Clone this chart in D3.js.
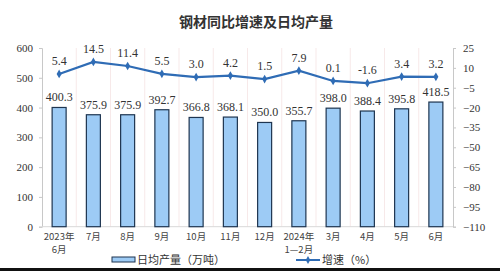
<!DOCTYPE html>
<html>
<head>
<meta charset="utf-8">
<script src="https://d3js.org/d3.v7.min.js"></script>
<style>
  body { margin: 0; background: #fff; }
  svg { display: block; }
</style>
</head>
<body>
<svg id="chart" width="500" height="271"></svg>
<script>
// data
const months = ["2023年\n6月", "7月", "8月", "9月", "10月", "11月", "12月", "2024年\n1—2月", "3月", "4月", "5月", "6月"];
const output = [400.3, 375.9, 375.9, 392.7, 366.8, 368.1, 350.0, 355.7, 398.0, 388.4, 395.8, 418.5];
const growth = [5.4, 14.5, 11.4, 5.5, 3.0, 4.2, 1.5, 7.9, 0.1, -1.6, 3.4, 3.2];
const leftTicks = [0, 100, 200, 300, 400, 500, 600];
const rightTicks = [25, 10, -5, -20, -35, -50, -65, -80, -95, -110];

const serif = "'Liberation Serif', 'Times New Roman', serif";
const svg = d3.select("#chart");
const m = {left: 42, right: 453, top: 48, bottom: 226.7};

const x = d3.scaleBand().domain(months).range([m.left, m.right]);
const yL = d3.scaleLinear().domain([0, 600]).range([m.bottom, m.top]);
const yR = d3.scaleLinear().domain([-110, 25]).range([m.bottom, m.top]);

// title
svg.append("text")
  .attr("x", 256).attr("y", 27)
  .attr("text-anchor", "middle")
  .attr("font-family", "'Noto Sans CJK SC', sans-serif")
  .attr("font-weight", "bold")
  .attr("font-size", 14)
  .attr("fill", "#333")
  .text("钢材同比增速及日均产量");

// faint vertical separators
svg.append("g").selectAll("line")
  .data(months.slice(1))
  .join("line")
  .attr("x1", d => x(d)).attr("x2", d => x(d))
  .attr("y1", m.top).attr("y2", m.bottom)
  .attr("stroke", "#f7e9e9").attr("stroke-width", 1);

// left axis
const axL = svg.append("g")
  .attr("transform", `translate(${m.left},0)`)
  .call(d3.axisLeft(yL).tickValues(leftTicks).tickSize(3).tickPadding(6));
axL.attr("font-family", serif);
axL.select(".domain").attr("stroke", "#c8c8c8");
axL.selectAll(".tick line").attr("stroke", "#c8c8c8");
axL.selectAll(".tick text").attr("font-size", 11).attr("fill", "#333");

// right axis
const axR = svg.append("g")
  .attr("transform", `translate(${m.right},0)`)
  .call(d3.axisRight(yR).tickValues(rightTicks).tickSize(3).tickPadding(7));
axR.attr("font-family", serif);
axR.select(".domain").attr("stroke", "#c8c8c8");
axR.selectAll(".tick line").attr("stroke", "#c8c8c8");
axR.selectAll(".tick text").attr("font-size", 11).attr("fill", "#333");

// bottom axis line
svg.append("line")
  .attr("x1", m.left).attr("x2", m.right)
  .attr("y1", yL(0)).attr("y2", yL(0))
  .attr("stroke", "#d8d8d8");

// category labels
const cat = svg.append("g").selectAll("text")
  .data(months)
  .join("text")
  .attr("x", d => x(d) + x.bandwidth() / 2)
  .attr("y", 240)
  .attr("text-anchor", "middle")
  .attr("font-family", "'Noto Sans CJK SC', serif")
  .attr("font-size", 9.5)
  .attr("fill", "#444");
cat.selectAll("tspan")
  .data(d => d.split("\n"))
  .join("tspan")
  .attr("x", function() { return d3.select(this.parentNode).attr("x"); })
  .attr("dy", (d, i) => i === 0 ? 0 : 13)
  .text(d => d);

// bars
const bw = 14;
svg.append("g").selectAll("rect")
  .data(output)
  .join("rect")
  .attr("x", (d, i) => x(months[i]) + x.bandwidth() / 2 - bw / 2)
  .attr("y", d => yL(d))
  .attr("width", bw)
  .attr("height", d => yL(0) - yL(d))
  .attr("fill", "#9dcbf5")
  .attr("stroke", "#1e3550")
  .attr("stroke-width", 1.2);

svg.append("g").selectAll("text")
  .data(output)
  .join("text")
  .attr("x", (d, i) => x(months[i]) + x.bandwidth() / 2)
  .attr("y", d => yL(d) - 6)
  .attr("text-anchor", "middle")
  .attr("font-family", serif)
  .attr("font-size", 12)
  .attr("fill", "#333")
  .text(d => d.toFixed(1));

// growth line
const cx = (d, i) => x(months[i]) + x.bandwidth() / 2;
const line = d3.line().x(cx).y(d => yR(d));
svg.append("path")
  .datum(growth)
  .attr("d", line)
  .attr("fill", "none")
  .attr("stroke", "#2f6cb5")
  .attr("stroke-width", 2.2);

svg.append("g").selectAll("path")
  .data(growth)
  .join("path")
  .attr("transform", (d, i) => `translate(${cx(d, i)},${yR(d)})`)
  .attr("d", d3.symbol(d3.symbolDiamond, 22))
  .attr("fill", "#2f6cb5");

svg.append("g").selectAll("text")
  .data(growth)
  .join("text")
  .attr("x", cx)
  .attr("y", d => yR(d) - 9)
  .attr("text-anchor", "middle")
  .attr("font-family", serif)
  .attr("font-size", 12)
  .attr("fill", "#333")
  .text(d => d.toFixed(1));

// legend
const lg = svg.append("g").attr("font-family", "'Noto Sans CJK SC', sans-serif").attr("font-size", 11).attr("fill", "#333");
lg.append("rect").attr("x", 112).attr("y", 257).attr("width", 23).attr("height", 5)
  .attr("fill", "#9dcbf5").attr("stroke", "#1e3550").attr("stroke-width", 1);
lg.append("text").attr("x", 137).attr("y", 263.5).text("日均产量（万吨）");
lg.append("line").attr("x1", 296).attr("x2", 320).attr("y1", 260).attr("y2", 260)
  .attr("stroke", "#2f6cb5").attr("stroke-width", 2);
lg.append("path").attr("transform", "translate(308,260)")
  .attr("d", d3.symbol(d3.symbolDiamond, 18)).attr("fill", "#2f6cb5");
lg.append("text").attr("x", 322).attr("y", 263.5).text("增速（%）");

// black bottom edge
svg.append("rect").attr("x", 0).attr("y", 268).attr("width", 500).attr("height", 3).attr("fill", "#111");
</script>
</body>
</html>
